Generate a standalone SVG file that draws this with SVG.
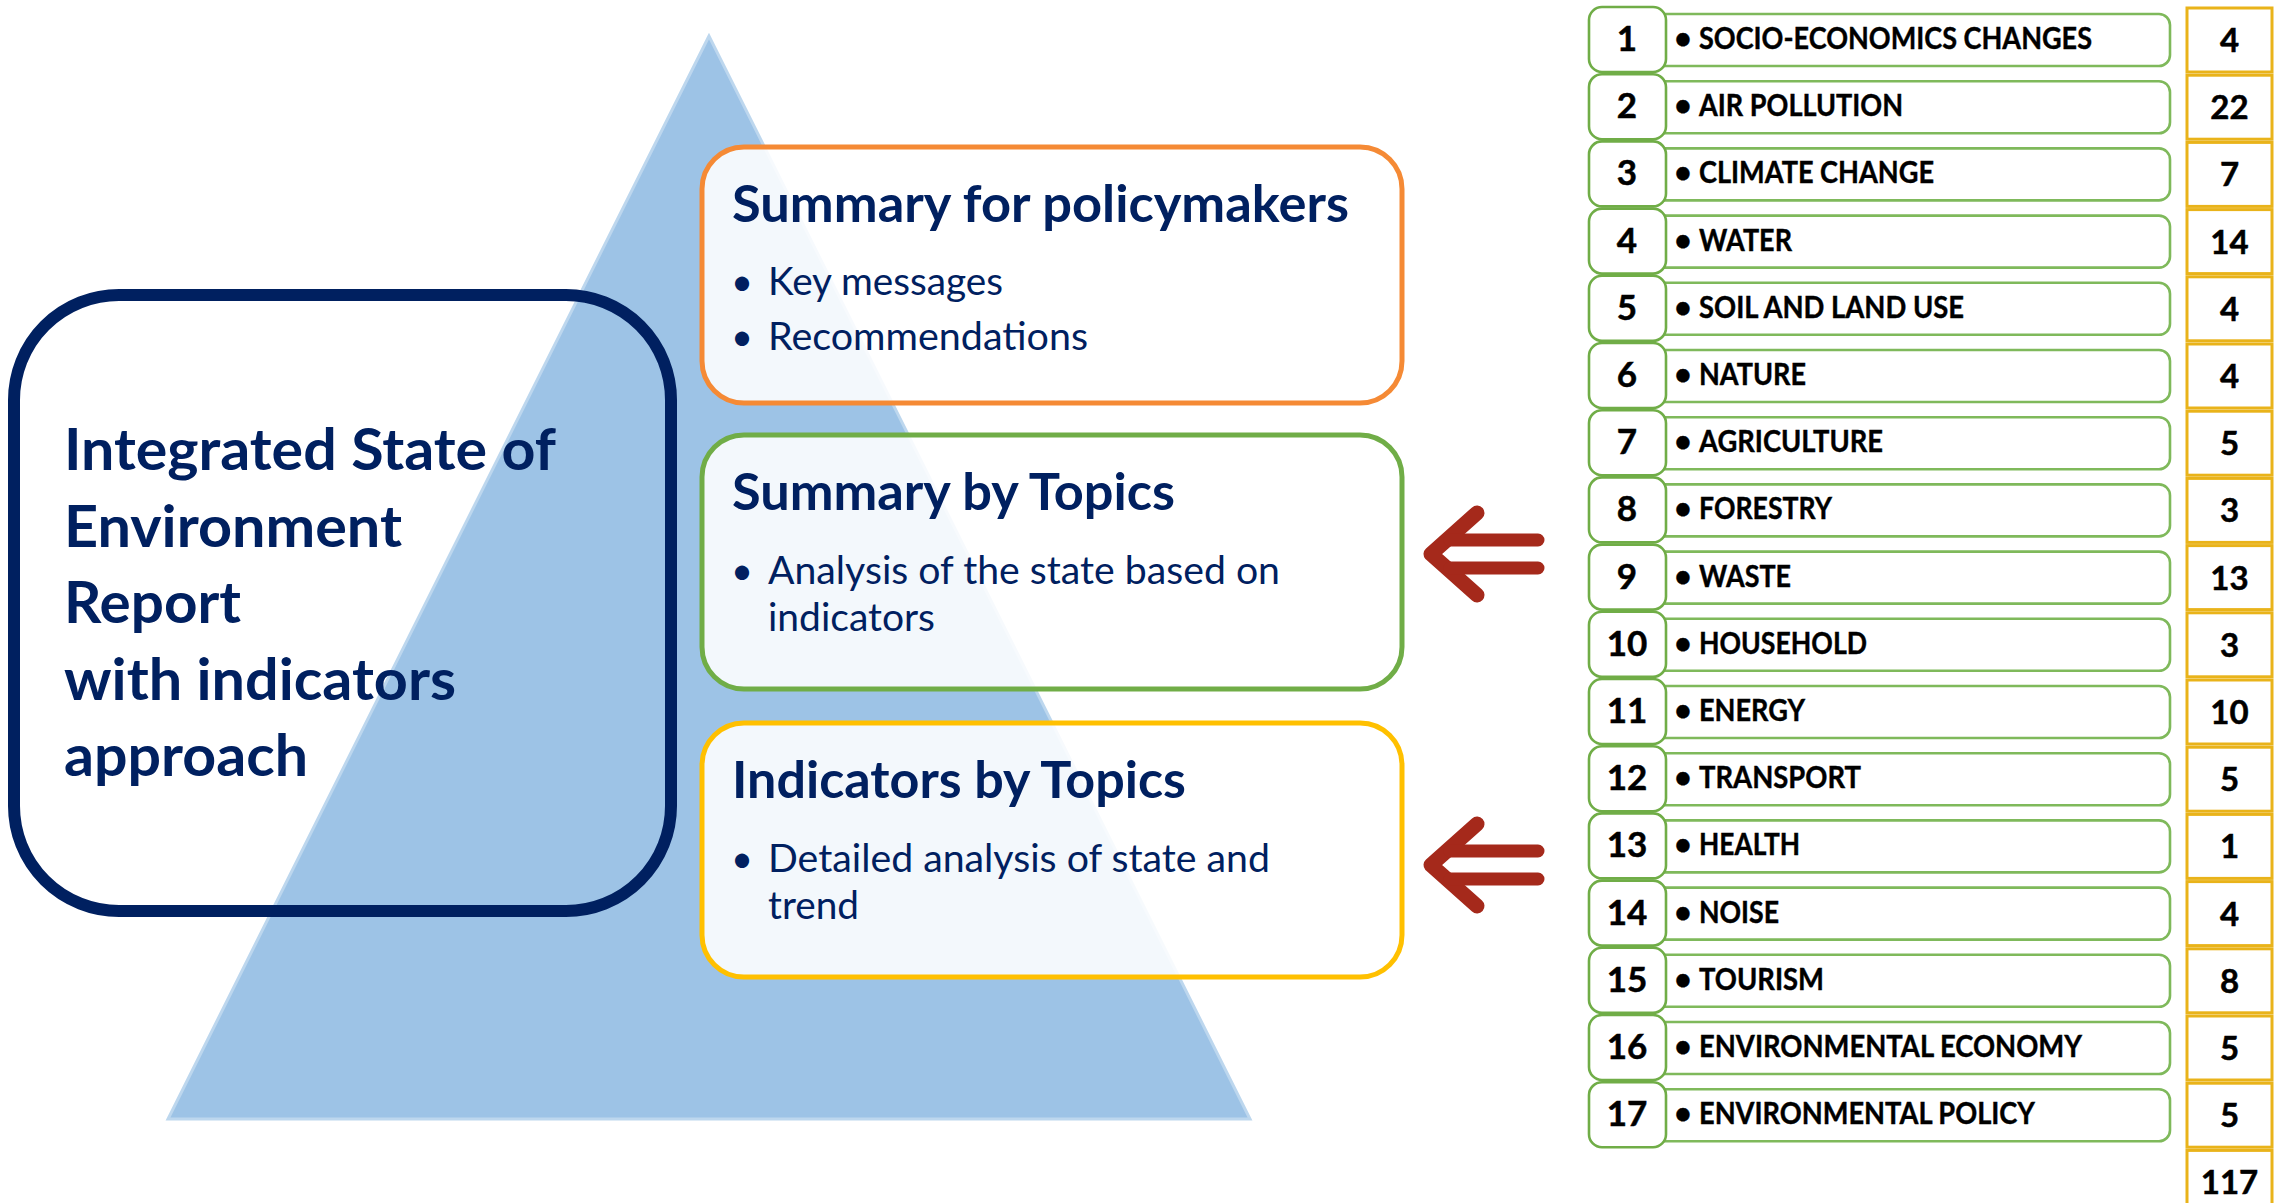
<svg xmlns="http://www.w3.org/2000/svg" width="2279" height="1203" viewBox="0 0 2279 1203">
<style>
.navyB{font-family:Lato,"Liberation Sans",sans-serif;font-weight:700;fill:#002060}
.navy{font-family:Lato,"Liberation Sans",sans-serif;font-weight:400;fill:#002060}
.card{fill:#ffffff;fill-opacity:0.88;stroke-width:5}
.num{fill:#ffffff;stroke:#70ad47;stroke-width:2.6}
.lab{fill:#ffffff;stroke:#7fb95b;stroke-width:2.6}
.cnt{fill:#ffffff;stroke:#e9b31a;stroke-width:3}
.lt{font-family:Lato,"Liberation Sans",sans-serif;font-weight:700;font-size:30px;fill:#000;stroke:#000;stroke-width:0.4}
.nt{font-family:Lato,"Liberation Sans",sans-serif;font-weight:700;font-size:35px;fill:#000;text-anchor:middle;stroke:#000;stroke-width:0.5}
.ct{font-family:Lato,"Liberation Sans",sans-serif;font-weight:700;font-size:33px;fill:#000;text-anchor:middle;stroke:#000;stroke-width:0.5}
.arr{fill:none;stroke:#a5291b;stroke-width:15;stroke-linecap:round;stroke-linejoin:round}
.arr2{fill:none;stroke:#a5291b;stroke-width:13;stroke-linecap:round}
</style>
<rect width="2279" height="1203" fill="#ffffff"/>
<polygon id="pyramid" points="709,36 168,1119 1250,1119" fill="#9dc3e6" stroke="#bdd7ee" stroke-width="3"/>

<g id="main">
<rect x="14" y="295" width="657" height="616" rx="105" fill="none" stroke="#002060" stroke-width="12"/>
<text class="navyB" font-size="58" x="64" y="470" textLength="492" lengthAdjust="spacingAndGlyphs">Integrated State of</text>
<text class="navyB" font-size="58" x="64" y="546.5" textLength="338" lengthAdjust="spacingAndGlyphs">Environment</text>
<text class="navyB" font-size="58" x="64" y="623" textLength="177" lengthAdjust="spacingAndGlyphs">Report</text>
<text class="navyB" font-size="58" x="64" y="699.5" textLength="392" lengthAdjust="spacingAndGlyphs">with indicators</text>
<text class="navyB" font-size="58" x="64" y="776" textLength="244" lengthAdjust="spacingAndGlyphs">approach</text>
</g>

<g id="summary-policymakers">
<rect class="card" x="702" y="147" width="700" height="256" rx="42" stroke="#f58a35"/>
<text class="navyB" font-size="51" x="732" y="222" textLength="617" lengthAdjust="spacingAndGlyphs">Summary for policymakers</text>
<text class="navy" font-size="38" x="742" y="295" text-anchor="middle">•</text>
<text class="navy" font-size="38" x="768" y="295" textLength="235" lengthAdjust="spacingAndGlyphs">Key messages</text>
<text class="navy" font-size="38" x="742" y="350" text-anchor="middle">•</text>
<text class="navy" font-size="38" x="768" y="350" textLength="320" lengthAdjust="spacingAndGlyphs">Recommendations</text>
</g>

<g id="summary-topics">
<rect class="card" x="702" y="435" width="700" height="254" rx="42" stroke="#70ad47"/>
<text class="navyB" font-size="51" x="732" y="510" textLength="443" lengthAdjust="spacingAndGlyphs">Summary by Topics</text>
<text class="navy" font-size="38" x="742" y="584" text-anchor="middle">•</text>
<text class="navy" font-size="38" x="768" y="584" textLength="512" lengthAdjust="spacingAndGlyphs">Analysis of the state based on</text>
<text class="navy" font-size="38" x="768" y="631" textLength="167" lengthAdjust="spacingAndGlyphs">indicators</text>
</g>

<g id="indicators-topics">
<rect class="card" x="702" y="723" width="700" height="254" rx="42" stroke="#ffc000"/>
<text class="navyB" font-size="51" x="732" y="798" textLength="454" lengthAdjust="spacingAndGlyphs">Indicators by Topics</text>
<text class="navy" font-size="38" x="742" y="872" text-anchor="middle">•</text>
<text class="navy" font-size="38" x="768" y="872" textLength="502" lengthAdjust="spacingAndGlyphs">Detailed analysis of state and</text>
<text class="navy" font-size="38" x="768" y="919" textLength="91" lengthAdjust="spacingAndGlyphs">trend</text>
</g>

<g id="connectors">
<g id="arrow-1">
<path class="arr" d="M1477,513 L1431,554 L1477,595"/>
<path class="arr2" d="M1450,540 H1538 M1450,568 H1538"/>
</g>
<g id="arrow-2" transform="translate(0,311)">
<path class="arr" d="M1477,513 L1431,554 L1477,595"/>
<path class="arr2" d="M1450,540 H1538 M1450,568 H1538"/>
</g>
</g>

<g id="row-1" transform="translate(0,0)">
<rect class="lab" x="1650" y="14" width="520" height="52" rx="11"/>
<rect class="num" x="1589" y="7" width="77" height="65" rx="13"/>
<rect class="cnt" x="2187" y="8" width="85" height="64"/>
<text class="nt" x="1627" y="51">1</text>
<text class="lt" x="1683" y="49" text-anchor="middle">•</text>
<text class="lt" x="1699" y="49" textLength="393" lengthAdjust="spacingAndGlyphs">SOCIO-ECONOMICS CHANGES</text>
<text class="ct" x="2229.5" y="52">4</text>
</g>
<g id="row-2" transform="translate(0,67.2)">
<rect class="lab" x="1650" y="14" width="520" height="52" rx="11"/>
<rect class="num" x="1589" y="7" width="77" height="65" rx="13"/>
<rect class="cnt" x="2187" y="8" width="85" height="64"/>
<text class="nt" x="1627" y="51">2</text>
<text class="lt" x="1683" y="49" text-anchor="middle">•</text>
<text class="lt" x="1699" y="49" textLength="204" lengthAdjust="spacingAndGlyphs">AIR POLLUTION</text>
<text class="ct" x="2229.5" y="52">22</text>
</g>
<g id="row-3" transform="translate(0,134.4)">
<rect class="lab" x="1650" y="14" width="520" height="52" rx="11"/>
<rect class="num" x="1589" y="7" width="77" height="65" rx="13"/>
<rect class="cnt" x="2187" y="8" width="85" height="64"/>
<text class="nt" x="1627" y="51">3</text>
<text class="lt" x="1683" y="49" text-anchor="middle">•</text>
<text class="lt" x="1699" y="49" textLength="235" lengthAdjust="spacingAndGlyphs">CLIMATE CHANGE</text>
<text class="ct" x="2229.5" y="52">7</text>
</g>
<g id="row-4" transform="translate(0,201.6)">
<rect class="lab" x="1650" y="14" width="520" height="52" rx="11"/>
<rect class="num" x="1589" y="7" width="77" height="65" rx="13"/>
<rect class="cnt" x="2187" y="8" width="85" height="64"/>
<text class="nt" x="1627" y="51">4</text>
<text class="lt" x="1683" y="49" text-anchor="middle">•</text>
<text class="lt" x="1699" y="49" textLength="93" lengthAdjust="spacingAndGlyphs">WATER</text>
<text class="ct" x="2229.5" y="52">14</text>
</g>
<g id="row-5" transform="translate(0,268.8)">
<rect class="lab" x="1650" y="14" width="520" height="52" rx="11"/>
<rect class="num" x="1589" y="7" width="77" height="65" rx="13"/>
<rect class="cnt" x="2187" y="8" width="85" height="64"/>
<text class="nt" x="1627" y="51">5</text>
<text class="lt" x="1683" y="49" text-anchor="middle">•</text>
<text class="lt" x="1699" y="49" textLength="265" lengthAdjust="spacingAndGlyphs">SOIL AND LAND USE</text>
<text class="ct" x="2229.5" y="52">4</text>
</g>
<g id="row-6" transform="translate(0,336)">
<rect class="lab" x="1650" y="14" width="520" height="52" rx="11"/>
<rect class="num" x="1589" y="7" width="77" height="65" rx="13"/>
<rect class="cnt" x="2187" y="8" width="85" height="64"/>
<text class="nt" x="1627" y="51">6</text>
<text class="lt" x="1683" y="49" text-anchor="middle">•</text>
<text class="lt" x="1699" y="49" textLength="107" lengthAdjust="spacingAndGlyphs">NATURE</text>
<text class="ct" x="2229.5" y="52">4</text>
</g>
<g id="row-7" transform="translate(0,403.2)">
<rect class="lab" x="1650" y="14" width="520" height="52" rx="11"/>
<rect class="num" x="1589" y="7" width="77" height="65" rx="13"/>
<rect class="cnt" x="2187" y="8" width="85" height="64"/>
<text class="nt" x="1627" y="51">7</text>
<text class="lt" x="1683" y="49" text-anchor="middle">•</text>
<text class="lt" x="1699" y="49" textLength="184" lengthAdjust="spacingAndGlyphs">AGRICULTURE</text>
<text class="ct" x="2229.5" y="52">5</text>
</g>
<g id="row-8" transform="translate(0,470.4)">
<rect class="lab" x="1650" y="14" width="520" height="52" rx="11"/>
<rect class="num" x="1589" y="7" width="77" height="65" rx="13"/>
<rect class="cnt" x="2187" y="8" width="85" height="64"/>
<text class="nt" x="1627" y="51">8</text>
<text class="lt" x="1683" y="49" text-anchor="middle">•</text>
<text class="lt" x="1699" y="49" textLength="133" lengthAdjust="spacingAndGlyphs">FORESTRY</text>
<text class="ct" x="2229.5" y="52">3</text>
</g>
<g id="row-9" transform="translate(0,537.6)">
<rect class="lab" x="1650" y="14" width="520" height="52" rx="11"/>
<rect class="num" x="1589" y="7" width="77" height="65" rx="13"/>
<rect class="cnt" x="2187" y="8" width="85" height="64"/>
<text class="nt" x="1627" y="51">9</text>
<text class="lt" x="1683" y="49" text-anchor="middle">•</text>
<text class="lt" x="1699" y="49" textLength="92" lengthAdjust="spacingAndGlyphs">WASTE</text>
<text class="ct" x="2229.5" y="52">13</text>
</g>
<g id="row-10" transform="translate(0,604.8)">
<rect class="lab" x="1650" y="14" width="520" height="52" rx="11"/>
<rect class="num" x="1589" y="7" width="77" height="65" rx="13"/>
<rect class="cnt" x="2187" y="8" width="85" height="64"/>
<text class="nt" x="1627" y="51">10</text>
<text class="lt" x="1683" y="49" text-anchor="middle">•</text>
<text class="lt" x="1699" y="49" textLength="168" lengthAdjust="spacingAndGlyphs">HOUSEHOLD</text>
<text class="ct" x="2229.5" y="52">3</text>
</g>
<g id="row-11" transform="translate(0,672)">
<rect class="lab" x="1650" y="14" width="520" height="52" rx="11"/>
<rect class="num" x="1589" y="7" width="77" height="65" rx="13"/>
<rect class="cnt" x="2187" y="8" width="85" height="64"/>
<text class="nt" x="1627" y="51">11</text>
<text class="lt" x="1683" y="49" text-anchor="middle">•</text>
<text class="lt" x="1699" y="49" textLength="106" lengthAdjust="spacingAndGlyphs">ENERGY</text>
<text class="ct" x="2229.5" y="52">10</text>
</g>
<g id="row-12" transform="translate(0,739.2)">
<rect class="lab" x="1650" y="14" width="520" height="52" rx="11"/>
<rect class="num" x="1589" y="7" width="77" height="65" rx="13"/>
<rect class="cnt" x="2187" y="8" width="85" height="64"/>
<text class="nt" x="1627" y="51">12</text>
<text class="lt" x="1683" y="49" text-anchor="middle">•</text>
<text class="lt" x="1699" y="49" textLength="162" lengthAdjust="spacingAndGlyphs">TRANSPORT</text>
<text class="ct" x="2229.5" y="52">5</text>
</g>
<g id="row-13" transform="translate(0,806.4)">
<rect class="lab" x="1650" y="14" width="520" height="52" rx="11"/>
<rect class="num" x="1589" y="7" width="77" height="65" rx="13"/>
<rect class="cnt" x="2187" y="8" width="85" height="64"/>
<text class="nt" x="1627" y="51">13</text>
<text class="lt" x="1683" y="49" text-anchor="middle">•</text>
<text class="lt" x="1699" y="49" textLength="101" lengthAdjust="spacingAndGlyphs">HEALTH</text>
<text class="ct" x="2229.5" y="52">1</text>
</g>
<g id="row-14" transform="translate(0,873.6)">
<rect class="lab" x="1650" y="14" width="520" height="52" rx="11"/>
<rect class="num" x="1589" y="7" width="77" height="65" rx="13"/>
<rect class="cnt" x="2187" y="8" width="85" height="64"/>
<text class="nt" x="1627" y="51">14</text>
<text class="lt" x="1683" y="49" text-anchor="middle">•</text>
<text class="lt" x="1699" y="49" textLength="80" lengthAdjust="spacingAndGlyphs">NOISE</text>
<text class="ct" x="2229.5" y="52">4</text>
</g>
<g id="row-15" transform="translate(0,940.8)">
<rect class="lab" x="1650" y="14" width="520" height="52" rx="11"/>
<rect class="num" x="1589" y="7" width="77" height="65" rx="13"/>
<rect class="cnt" x="2187" y="8" width="85" height="64"/>
<text class="nt" x="1627" y="51">15</text>
<text class="lt" x="1683" y="49" text-anchor="middle">•</text>
<text class="lt" x="1699" y="49" textLength="125" lengthAdjust="spacingAndGlyphs">TOURISM</text>
<text class="ct" x="2229.5" y="52">8</text>
</g>
<g id="row-16" transform="translate(0,1008)">
<rect class="lab" x="1650" y="14" width="520" height="52" rx="11"/>
<rect class="num" x="1589" y="7" width="77" height="65" rx="13"/>
<rect class="cnt" x="2187" y="8" width="85" height="64"/>
<text class="nt" x="1627" y="51">16</text>
<text class="lt" x="1683" y="49" text-anchor="middle">•</text>
<text class="lt" x="1699" y="49" textLength="383" lengthAdjust="spacingAndGlyphs">ENVIRONMENTAL ECONOMY</text>
<text class="ct" x="2229.5" y="52">5</text>
</g>
<g id="row-17" transform="translate(0,1075.2)">
<rect class="lab" x="1650" y="14" width="520" height="52" rx="11"/>
<rect class="num" x="1589" y="7" width="77" height="65" rx="13"/>
<rect class="cnt" x="2187" y="8" width="85" height="64"/>
<text class="nt" x="1627" y="51">17</text>
<text class="lt" x="1683" y="49" text-anchor="middle">•</text>
<text class="lt" x="1699" y="49" textLength="336" lengthAdjust="spacingAndGlyphs">ENVIRONMENTAL POLICY</text>
<text class="ct" x="2229.5" y="52">5</text>
</g>
<g id="total" transform="translate(0,1142.4)">
<rect class="cnt" x="2187" y="8" width="85" height="64"/>
<text class="ct" x="2229.5" y="52">117</text>
</g>
</svg>
